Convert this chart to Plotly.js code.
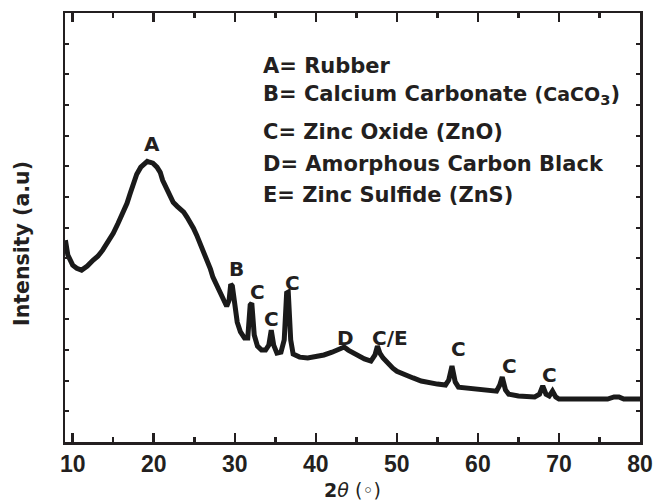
<!DOCTYPE html>
<html>
<head>
<meta charset="utf-8">
<script src="https://cdn.plot.ly/plotly-3.0.1.min.js"></script>
<style>html,body{margin:0;padding:0;background:#fff;}#chart{width:656px;height:502px;}</style>
</head>
<body>
<div id="chart"></div>
<script>
// 2-theta (degrees) and intensity (a.u.)
var twoTheta = [9.1,9.4,10.0,10.5,11.1,11.8,12.5,13.1,13.7,14.4,15.0,
  15.6,16.2,16.7,17.1,17.5,17.9,18.4,18.9,19.2,19.5,19.9,20.4,
  20.8,21.1,21.6,22.0,22.4,22.9,23.2,23.7,24.1,24.5,24.9,25.3,25.7,
  26.2,26.6,27.0,27.3,27.8,28.2,28.6,29.0,29.3,29.5,29.7,30.0,
  30.3,30.7,31.2,31.6,31.9,32.1,32.4,32.8,33.3,33.8,34.2,34.5,34.8,
  35.2,35.7,36.1,36.4,36.6,36.9,37.2,38.0,39.0,40.0,
  41.0,42.0,43.0,43.5,44.0,45.0,46.0,46.8,47.3,47.6,47.9,48.3,48.7,
  49.5,50.0,51.0,52.0,53.0,54.0,55.0,56.0,56.4,56.8,57.2,57.6,
  58.5,59.5,60.5,61.5,62.3,62.7,63.0,63.4,63.8,
  65.0,66.0,67.0,67.6,68.0,68.4,68.8,69.2,69.6,70.0,
  71.0,72.0,73.0,74.0,75.0,76.0,76.8,77.4,78.0,79.0,80.0];
var intensity = [659,610,577,567,561,574,593,606,626,652,681,
  714,747,779,812,844,874,897,910,916,913,910,897,
  880,854,825,799,782,769,763,750,734,717,698,675,649,
  623,593,564,538,512,486,463,443,463,515,509,447,
  391,359,339,339,447,453,349,313,300,300,316,365,316,
  290,293,333,486,489,333,287,277,274,277,
  284,293,306,310,300,284,271,264,284,313,290,274,261,
  241,231,222,209,199,192,189,186,202,248,196,179,
  176,173,170,166,166,186,212,170,156,
  150,147,147,156,183,156,150,166,147,140,
  140,137,140,137,137,140,147,147,140,140,140];

// peak labels
var peakLabels = ['A','B','C','C','C','D','C/E','C','C','C'];
var peakLabelX = [19.8,30.15,32.86,34.59,37.18,43.66,49.15,57.66,63.95,68.83];
var peakLabelY = [973,563,488,403,520,341,341,302,248,218];

// key text
var keyLines = ['A= Rubber',
  'B= Calcium Carbonate <span style="font-size:19px">(CaCO</span><sub>3</sub>)',
  'C= Zinc Oxide (ZnO)',
  'D= Amorphous Carbon Black',
  'E= Zinc Sulfide (ZnS)'];
var keyLineY = [0.8765,0.8077,0.7226,0.6469,0.5769];

var xTickVals = [10,20,30,40,50,60,70,80];

var ink = '#231f20';

var annotations = [];
for (var i=0;i<peakLabels.length;i++){
  annotations.push({x:peakLabelX[i], y:peakLabelY[i], xref:'x', yref:'y', text:'<b>'+peakLabels[i]+'</b>',
    showarrow:false, xanchor:'center', yanchor:'middle',
    font:{family:'DejaVu Sans, Arial, sans-serif', size:20, color:ink}});
}
for (var j=0;j<keyLines.length;j++){
  annotations.push({x:0.3409, y:keyLineY[j], xref:'paper', yref:'paper', text:'<b>'+keyLines[j]+'</b>',
    showarrow:false, xanchor:'left', yanchor:'middle', align:'left',
    font:{family:'DejaVu Sans, Arial, sans-serif', size:21, color:ink}});
}
// axis titles
annotations.push({x:-0.0748, y:0.4639, xref:'paper', yref:'paper', text:'<b>Intensity (a.u)</b>',
  textangle:-90, showarrow:false, xanchor:'center', yanchor:'middle',
  font:{family:'DejaVu Sans, Arial, sans-serif', size:20.5, color:ink}});
annotations.push({x:0.5, y:-0.1119, xref:'paper', yref:'paper', text:'<b>2</b><i>θ</i> (◦)',
  showarrow:false, xanchor:'center', yanchor:'middle',
  font:{family:'DejaVu Sans, Arial, sans-serif', size:19, color:ink}});

var trace = {x:twoTheta, y:intensity, type:'scatter', mode:'lines',
  line:{color:'#1a1a1a', width:5}, hoverinfo:'skip'};

var layout = {
  width:656, height:502,
  margin:{l:65, r:16, t:13, b:60, pad:0},
  paper_bgcolor:'#fff', plot_bgcolor:'#fff',
  showlegend:false,
  xaxis:{range:[9.05,80], tickvals:xTickVals, ticktext:xTickVals.map(String),
    ticks:'inside', ticklen:9, tickwidth:2.5, tickcolor:ink,
    minor:{dtick:5, tick0:5, ticks:'inside', ticklen:5, tickwidth:2.5, tickcolor:ink, showgrid:false},
    showline:true, linewidth:2.5, linecolor:ink, mirror:'ticks',
    showgrid:false, zeroline:false,
    tickfont:{family:'Liberation Sans, Arial, sans-serif', size:23, color:ink, weight:'bold'}},
  yaxis:{range:[0,1400], dtick:100, tick0:0, ticks:'inside', ticklen:4, tickwidth:2, tickcolor:ink,
    showticklabels:false, showline:true, linewidth:2.5, linecolor:ink, mirror:'ticks',
    showgrid:false, zeroline:false},
  annotations:annotations
};

Plotly.newPlot('chart',[trace],layout,{staticPlot:true, displayModeBar:false});
</script>
</body>
</html>
